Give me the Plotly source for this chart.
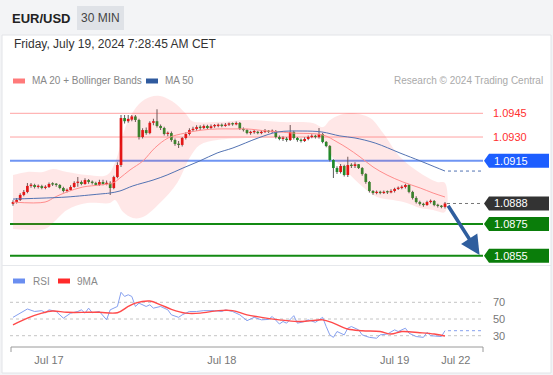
import plotly.graph_objects as go

# ---------------- data ----------------
opens = [
1.08878,1.08889,1.08902,1.08934,1.08953,1.08991,1.08997,1.08984,1.08990,1.08978,
1.08984,1.09003,1.09000,1.08997,1.08978,1.08959,1.08965,1.08984,1.09010,1.09016,
1.09003,1.09028,1.09016,1.09010,1.08997,1.09016,1.09003,1.09010,1.08978,1.09047,
1.09123,1.09420,1.09400,1.09410,1.09430,1.09408,1.09300,1.09344,1.09325,1.09390,
1.09400,1.09370,1.09357,1.09319,1.09325,1.09281,1.09256,1.09250,1.09294,1.09319,
1.09344,1.09351,1.09363,1.09357,1.09370,1.09357,1.09368,1.09370,1.09376,1.09370,
1.09378,1.09382,1.09380,1.09389,1.09351,1.09344,1.09325,1.09330,1.09332,1.09325,
1.09332,1.09338,1.09332,1.09338,1.09300,1.09288,1.09290,1.09281,1.09332,1.09294,
1.09281,1.09275,1.09288,1.09300,1.09307,1.09300,1.09319,1.09269,1.09243,1.09155,
1.09104,1.09079,1.09117,1.09060,1.09123,1.09117,1.09128,1.09104,1.09066,1.09016,
1.08959,1.08946,1.08953,1.08946,1.08953,1.08950,1.08959,1.08972,1.08978,1.08984,
1.08997,1.08953,1.08915,1.08889,1.08877,1.08870,1.08889,1.08896,1.08870,1.08864,
1.08858]
closes = [
1.08889,1.08902,1.08934,1.08953,1.08991,1.08997,1.08984,1.08990,1.08978,1.08984,
1.09003,1.09000,1.08997,1.08978,1.08959,1.08965,1.08984,1.09010,1.09016,1.09003,
1.09028,1.09016,1.09010,1.08997,1.09016,1.09003,1.09010,1.08978,1.09047,1.09123,
1.09420,1.09400,1.09415,1.09430,1.09408,1.09300,1.09344,1.09325,1.09390,1.09400,
1.09370,1.09357,1.09319,1.09325,1.09281,1.09256,1.09250,1.09294,1.09319,1.09344,
1.09351,1.09363,1.09357,1.09370,1.09357,1.09368,1.09370,1.09376,1.09370,1.09378,
1.09382,1.09380,1.09389,1.09351,1.09344,1.09325,1.09330,1.09332,1.09325,1.09332,
1.09338,1.09332,1.09338,1.09300,1.09288,1.09290,1.09281,1.09332,1.09294,1.09281,
1.09275,1.09288,1.09300,1.09307,1.09300,1.09319,1.09269,1.09243,1.09155,1.09104,
1.09079,1.09117,1.09060,1.09123,1.09117,1.09128,1.09104,1.09066,1.09016,1.08959,
1.08946,1.08953,1.08946,1.08953,1.08950,1.08959,1.08972,1.08978,1.08984,1.08997,
1.08953,1.08915,1.08889,1.08877,1.08870,1.08889,1.08896,1.08870,1.08864,1.08858,
1.08880]
highs = [
1.08900,1.08915,1.08945,1.08965,1.09010,1.09010,1.09005,1.09000,1.08998,1.08995,
1.09012,1.09015,1.09010,1.09003,1.08985,1.08975,1.08995,1.09020,1.09047,1.09025,
1.09040,1.09035,1.09025,1.09018,1.09030,1.09030,1.09025,1.09020,1.09055,1.09140,
1.09440,1.09440,1.09440,1.09440,1.09440,1.09415,1.09355,1.09360,1.09400,1.09415,
1.09475,1.09380,1.09365,1.09335,1.09335,1.09290,1.09275,1.09300,1.09330,1.09355,
1.09365,1.09375,1.09375,1.09380,1.09378,1.09380,1.09382,1.09385,1.09385,1.09388,
1.09392,1.09392,1.09398,1.09395,1.09360,1.09350,1.09340,1.09345,1.09340,1.09345,
1.09350,1.09345,1.09348,1.09345,1.09310,1.09305,1.09300,1.09376,1.09340,1.09300,
1.09290,1.09298,1.09310,1.09318,1.09315,1.09357,1.09325,1.09275,1.09250,1.09160,
1.09115,1.09130,1.09125,1.09175,1.09135,1.09140,1.09130,1.09110,1.09072,1.09022,
1.08965,1.08962,1.08960,1.08962,1.08962,1.08970,1.08980,1.08988,1.08995,1.09005,
1.09003,1.08960,1.08925,1.08898,1.08885,1.08898,1.08905,1.08902,1.08878,1.08870,
1.08890]
lows = [
1.08865,1.08880,1.08895,1.08925,1.08945,1.08980,1.08975,1.08975,1.08970,1.08970,
1.08978,1.08990,1.08985,1.08970,1.08950,1.08950,1.08960,1.08980,1.08985,1.08995,
1.08998,1.09005,1.09000,1.08990,1.08990,1.08995,1.08995,1.08934,1.08970,1.09040,
1.09110,1.09385,1.09390,1.09400,1.09395,1.09285,1.09290,1.09315,1.09318,1.09375,
1.09360,1.09345,1.09310,1.09305,1.09270,1.09245,1.09230,1.09240,1.09285,1.09310,
1.09335,1.09340,1.09345,1.09350,1.09350,1.09350,1.09358,1.09362,1.09362,1.09365,
1.09370,1.09372,1.09375,1.09345,1.09335,1.09318,1.09315,1.09320,1.09318,1.09318,
1.09325,1.09325,1.09325,1.09290,1.09280,1.09275,1.09270,1.09275,1.09285,1.09270,
1.09265,1.09268,1.09280,1.09292,1.09290,1.09290,1.09260,1.09235,1.09145,1.09041,
1.09066,1.09070,1.09050,1.09047,1.09105,1.09105,1.09098,1.09055,1.09005,1.08950,
1.08935,1.08938,1.08938,1.08940,1.08940,1.08945,1.08950,1.08965,1.08970,1.08975,
1.08945,1.08905,1.08880,1.08868,1.08860,1.08865,1.08880,1.08862,1.08855,1.08850,
1.08848]
bar_index = list(range(len(closes)))

ma20_idx = [0,8.9,11.7,15,19.4,24.2,27.8,29.7,32.5,36.1,39.4,43.1,47.8,52.5,56.7,61.1,65,70.6,74.2,77.8,86.1,90,92.8,96.4,100,103.9,108.3,113.1,116.7,120]
ma20_val = [1.08889,1.08889,1.08921,1.08953,1.08984,1.08997,1.09010,1.09041,1.09092,1.09149,1.09231,1.09294,1.09325,1.09344,1.09351,1.09351,1.09351,1.09338,1.09332,1.09325,1.09313,1.09269,1.09231,1.09174,1.09111,1.09060,1.09016,1.08978,1.08946,1.08921]

ma50_idx = [0,9.4,15,24.2,26.9,29.7,33.3,38.9,42.8,47.2,51.9,56.7,61.1,68.1,73.6,80.3,85.8,90.8,95,100.6,107.5,113.1,117.2,120]
ma50_val = [1.08908,1.08915,1.08921,1.08940,1.08946,1.08959,1.08991,1.09028,1.09060,1.09104,1.09149,1.09199,1.09231,1.09294,1.09332,1.09338,1.09332,1.09307,1.09294,1.09262,1.09199,1.09149,1.09111,1.09085]

bb_up_idx = [0,3.9,8.3,11.1,15,20.6,26.1,28.3,31.7,35.3,38.1,40.8,43.6,45.6,48.3,49.7,56.7,65,74.2,83.3,86.1,88.1,90.8,93.6,99.2,102.8,107.5,113.1,117.8,120]
bb_up_val = [1.09060,1.09079,1.09079,1.09098,1.09079,1.09060,1.09060,1.09136,1.09389,1.09515,1.09553,1.09559,1.09534,1.09502,1.09439,1.09401,1.09395,1.09408,1.09395,1.09389,1.09363,1.09408,1.09439,1.09452,1.09420,1.09325,1.09174,1.09073,1.09016,1.09010]
bb_lo_idx = [0,8.9,11.1,15,20.6,26.9,28.3,30.6,33.3,36.1,40.8,45.6,49.2,51.9,56.7,65.8,74.2,83.3,86.1,88.9,92.8,97.2,101.1,105.6,109.4,113.1,116.7,120]
bb_lo_val = [1.08719,1.08719,1.08757,1.08839,1.08883,1.08883,1.08902,1.08826,1.08788,1.08794,1.08883,1.09010,1.09174,1.09250,1.09281,1.09294,1.09294,1.09294,1.09281,1.09167,1.09079,1.08984,1.08921,1.08902,1.08883,1.08851,1.08839,1.08826]

rsi_idx = [0,2,4,6,8,9,10,12,14,16,18,19,20,21,22,24,26,27,29,30,31,32,33,34,35,37,38,39,41,43,44,46,47,49,51,53,56,58,59,61,63,65,67,69,71,72,74,75,76,78,79,81,82,84,86,87,88,89,90,92,93,94,96,97,99,101,102,104,106,107,109,110,112,114,115,116,118,119,120]
rsi_val = [52,57,62,59,60,57.5,61,59,51,57,59,61,57,63,57.5,59,49,61,65,82,77,79,77,65,69,65,67,63,65,61,55,52,55,59,59,60,60,59,61,59,55,48,52,49,49.5,53,44,47,45,54,45,47,49,46,52,41,31,28,35,31,39,41,37,31,28,27,31,32,37,35,39,33,29,28,34,30,29,29,36]
ma9_idx = [0,4,8,11,15,21,24,29,32,34,38,41,44,48,52,57,61,65,69,74,79,83,86,89,93,97,102,105,108,113,117,120]
ma9_val = [43,51,57,59.5,58,58,58,57.5,65,69,71.5,67,61.6,57,57,60,60,55,52,49,47,48,49,45,38,36,35,32,35,33.6,32,29.6]

levels = [1.0945, 1.0930, 1.0915, 1.0888, 1.0875, 1.0855]
level_labels = ["1.0945", "1.0930", "1.0915", "1.0888", "1.0875", "1.0855"]
rsi_levels = [70, 50, 30]
date_ticks = [10, 58, 106, 123]
date_labels = ["Jul 17", "Jul 18", "Jul 19", "Jul 22"]

# ---------------- layout helpers ----------------
W, H = 553, 375
FONT = "Liberation Sans, Arial, sans-serif"
def px(x):
    return x / W
def py(y):
    return 1 - y / H

PX_PER_BAR = 3.6
X0 = 13
xrange_ = [-X0 / PX_PER_BAR, (W - X0) / PX_PER_BAR]
PX_PER_PRICE = 15822.0
price_top = 1.0945 + (113.3 - 90) / PX_PER_PRICE
price_bot = 1.0945 - (265 - 113.3) / PX_PER_PRICE
rsi_top = 50 + (319 - 290) / 0.835
rsi_bot = 50 - (347 - 319) / 0.835

fig = go.Figure()

# Bollinger band
fig.add_trace(go.Scatter(
    x=bb_up_idx + bb_lo_idx[::-1], y=bb_up_val + bb_lo_val[::-1],
    fill="toself", fillcolor="rgba(255,70,70,0.13)", line=dict(width=0),
    mode="lines", hoverinfo="skip", showlegend=False, line_shape="spline"))
fig.add_trace(go.Scatter(x=ma20_idx, y=ma20_val, mode="lines",
    line=dict(color="#ff8d8d", width=1, shape="spline"), showlegend=False))
fig.add_trace(go.Scatter(x=ma50_idx, y=ma50_val, mode="lines",
    line=dict(color="#5373b3", width=1, shape="spline"), showlegend=False))

# candles as bars
wick_h = [h - l for h, l in zip(highs, lows)]
body_base = [min(o, c) for o, c in zip(opens, closes)]
body_h = [max(abs(c - o), 0.00008) for o, c in zip(opens, closes)]
body_col = ["#e01010" if c >= o else "#1f8a2a" for o, c in zip(opens, closes)]
fig.add_trace(go.Bar(x=bar_index, y=wick_h, base=lows, width=0.28,
    marker=dict(color="#5a5a5a", line=dict(width=0)), showlegend=False))
fig.add_trace(go.Bar(x=bar_index, y=body_h, base=body_base, width=0.75,
    marker=dict(color=body_col, line=dict(width=0)), showlegend=False))

# RSI panel
fig.add_trace(go.Scatter(x=rsi_idx, y=rsi_val, mode="lines", xaxis="x2", yaxis="y2",
    line=dict(color="#86a0ef", width=1), showlegend=False))
fig.add_trace(go.Scatter(x=ma9_idx, y=ma9_val, mode="lines", xaxis="x2", yaxis="y2",
    line=dict(color="#ff4a4a", width=1.4, shape="spline"), showlegend=False))

shapes = []
annotations = []
# panel background
shapes.append(dict(type="rect", xref="paper", yref="paper", x0=px(2), x1=px(551),
    y0=py(373), y1=py(35), fillcolor="white", line=dict(color="#e2e4e8", width=1), layer="below"))
shapes.append(dict(type="line", xref="paper", yref="paper", x0=px(2), x1=px(551),
    y0=py(265.5), y1=py(265.5), line=dict(color="#e6e8ec", width=1), layer="below"))

# level lines
lvl_style = {
    0: dict(color="#ffa3a3", width=1),
    1: dict(color="#ffa3a3", width=1),
    2: dict(color="#6f95f3", width=2),
    4: dict(color="#138a13", width=2),
    5: dict(color="#138a13", width=2),
}
for i, lv in enumerate(levels):
    if i == 3:
        shapes.append(dict(type="line", xref="paper", yref="y", x0=px(447), x1=px(483),
            y0=lv, y1=lv, line=dict(color="#777", width=1, dash="dot")))
        continue
    shapes.append(dict(type="line", xref="paper", yref="y", x0=px(10), x1=px(483),
        y0=lv, y1=lv, line=lvl_style[i], layer="below"))

# label boxes
half = 7 / PX_PER_PRICE
box_col = {2: "#1d5eff", 3: "#333333", 4: "#0a7d0a", 5: "#0a7d0a"}
for i, lv in enumerate(levels):
    if i in box_col:
        path = (f"M {px(484)},{lv} L {px(489)},{lv + half} L {px(549)},{lv + half} "
                f"L {px(549)},{lv - half} L {px(489)},{lv - half} Z")
        shapes.append(dict(type="path", xref="paper", yref="y", path=path,
            fillcolor=box_col[i], line=dict(width=0)))
        annotations.append(dict(xref="paper", yref="y", x=px(492), y=lv, text=level_labels[i],
            showarrow=False, xanchor="left", yanchor="middle",
            font=dict(family=FONT, size=11, color="white")))
    else:
        annotations.append(dict(xref="paper", yref="y", x=px(491), y=lv, text=level_labels[i],
            showarrow=False, xanchor="left", yanchor="middle",
            font=dict(family=FONT, size=11, color="#ff3030")))

# MA50 dotted extension
shapes.append(dict(type="line", xref="paper", yref="y", x0=px(448), x1=px(483),
    y0=ma50_val[-1], y1=ma50_val[-1], line=dict(color="#5373b3", width=1, dash="dot")))

# forecast arrow
annotations.append(dict(x=129.6, y=levels[5] + 0.00005, ax=120.6, ay=closes[-1] - 0.00005,
    xref="x", yref="y", axref="x", ayref="y", showarrow=True, text="",
    arrowhead=2, arrowsize=1.1, arrowwidth=3.5, arrowcolor="#2f5e9e"))

# RSI guide lines
for v in rsi_levels:
    shapes.append(dict(type="line", xref="paper", yref="y2", x0=px(10), x1=px(483),
        y0=v, y1=v, line=dict(color="#c4c4c4", width=1, dash="dot"), layer="below"))
    annotations.append(dict(xref="paper", yref="y2", x=px(491), y=v, text=str(v),
        showarrow=False, xanchor="left", yanchor="middle",
        font=dict(family=FONT, size=11, color="#777")))
shapes.append(dict(type="line", xref="paper", yref="y2", x0=px(448), x1=px(483),
    y0=rsi_val[-1], y1=rsi_val[-1], line=dict(color="#86a0ef", width=1, dash="dot")))

# RSI x-axis line with end caps
shapes.append(dict(type="line", xref="paper", yref="paper", x0=px(11), x1=px(483),
    y0=py(347), y1=py(347), line=dict(color="#9a9a9a", width=1)))
for xx in (11, 483):
    shapes.append(dict(type="line", xref="paper", yref="paper", x0=px(xx), x1=px(xx),
        y0=py(347), y1=py(352), line=dict(color="#9a9a9a", width=1)))

# header
shapes.append(dict(type="rect", xref="paper", yref="paper", x0=px(77), x1=px(124),
    y0=py(30), y1=py(6), fillcolor="#dfe2e7", line=dict(width=0)))
annotations.append(dict(xref="paper", yref="paper", x=px(10), y=py(18), text="<b>EUR/USD</b>",
    showarrow=False, xanchor="left", yanchor="middle", font=dict(family=FONT, size=13, color="#222")))
annotations.append(dict(xref="paper", yref="paper", x=px(100.5), y=py(18), text="30 MIN",
    showarrow=False, xanchor="center", yanchor="middle", font=dict(family=FONT, size=12, color="#444")))
annotations.append(dict(xref="paper", yref="paper", x=px(12), y=py(44),
    text="Friday, July 19, 2024 7:28:45 AM CET",
    showarrow=False, xanchor="left", yanchor="middle", font=dict(family=FONT, size=12, color="#333")))

# legends
def swatch(x0, x1, yc, color):
    shapes.append(dict(type="rect", xref="paper", yref="paper", x0=px(x0), x1=px(x1),
        y0=py(yc + 2.5), y1=py(yc - 2.5), fillcolor=color, line=dict(width=0)))
def label(x, yc, text, color="#888", anchor="left", size=10):
    annotations.append(dict(xref="paper", yref="paper", x=px(x), y=py(yc), text=text,
        showarrow=False, xanchor=anchor, yanchor="middle", font=dict(family=FONT, size=size, color=color)))

swatch(13, 25, 81, "#ff7a7a")
label(30, 81, "MA 20 + Bollinger Bands")
swatch(146, 158, 81, "#2f5a9e")
label(163, 81, "MA 50")
label(545, 81, "Research © 2024 Trading Central", color="#aaa", anchor="right")

swatch(13, 25, 281, "#6a8ef0")
label(31, 281, "RSI")
swatch(58, 70, 281, "#ff2a2a")
label(75, 281, "9MA")

fig.update_layout(
    width=W, height=H, margin=dict(l=0, r=0, t=0, b=0),
    paper_bgcolor="#f3f4f6", plot_bgcolor="rgba(0,0,0,0)",
    barmode="overlay", showlegend=False,
    font=dict(family=FONT),
    xaxis=dict(domain=[0, 1], range=xrange_, visible=False, anchor="y"),
    yaxis=dict(domain=[py(265), py(90)], range=[price_bot, price_top], visible=False, anchor="x"),
    xaxis2=dict(domain=[0, 1], range=xrange_, anchor="y2", showgrid=False, zeroline=False,
                showline=False, ticks="", tickvals=date_ticks, ticktext=date_labels,
                ticklabelstandoff=5,
                tickfont=dict(family=FONT, size=11, color="#777")),
    yaxis2=dict(domain=[py(347), py(290)], range=[rsi_bot, rsi_top], visible=False, anchor="x2"),
    shapes=shapes, annotations=annotations,
)

fig.write_html("out.html", config={"displayModeBar": False, "staticPlot": True},
               post_script="document.body.style.margin='0';document.body.style.overflow='hidden';")
